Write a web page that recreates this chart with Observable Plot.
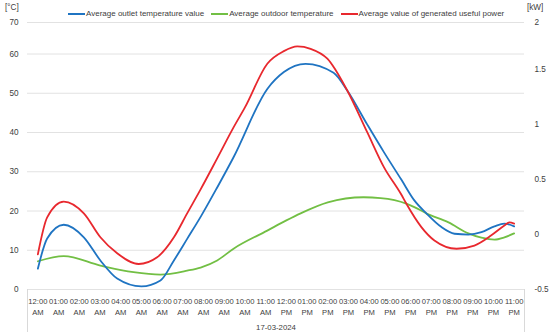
<!DOCTYPE html>
<html><head><meta charset="utf-8">
<script src="https://cdn.jsdelivr.net/npm/d3@7"></script>
<script src="https://cdn.jsdelivr.net/npm/@observablehq/plot@0.6"></script>
<style>
body{margin:0;background:#fff;}
#wrap{position:relative;width:550px;height:336px;font-family:"Liberation Sans",Arial,sans-serif;color:#404040;}
.legend{position:absolute;top:8px;left:68px;display:flex;align-items:center;font-size:8px;white-space:nowrap;line-height:12px;}
.item{display:flex;align-items:center;margin-right:7px}
.sw{display:inline-block;width:17px;height:2.5px;margin-right:1px}
.unit{position:absolute;top:2px;font-size:8.2px;line-height:12px}
</style></head><body>
<div id="wrap"></div>
<script>
// category tick labels (hours of 17-03-2024)
const xTickLabels = ["12:00\nAM","01:00\nAM","02:00\nAM","03:00\nAM","04:00\nAM","05:00\nAM","06:00\nAM","07:00\nAM","08:00\nAM","09:00\nAM","10:00\nAM","11:00\nAM",
  "12:00\nPM","01:00\nPM","02:00\nPM","03:00\nPM","04:00\nPM","05:00\nPM","06:00\nPM","07:00\nPM","08:00\nPM","09:00\nPM","10:00\nPM","11:00\nPM"];
const dateLabel = "17-03-2024";
const leftTicks = [0,10,20,30,40,50,60,70];      // [°C]
const rightTicks = [-0.5,0,0.5,1,1.5,2];         // [kW]

const seriesNames = ["Average outlet temperature value","Average outdoor temperature","Average value of generated useful power"];
const seriesColors = ["#1f74c2","#72bf44","#e8282e"];

// Average outlet temperature value [°C] (hour position, value)
const outletHours  = [0,0.45,1.25,2.22,3.02,3.83,5.0,5.92,6.57,7.21,7.86,8.66,9.45,11.08,11.88,12.93,14.28,14.94,15.91,16.71,17.55,18.18,18.76,19.49,20.12,20.79,21.42,22.05,22.53,23];
const outletValues = [5.3,13,16.5,13.3,7.4,2.8,0.8,2.3,7.4,12.9,18.5,26,33.7,51.1,55.4,57.5,55.2,50.7,42,35,28,22.7,19.4,15.9,14.2,14,14.6,16.1,16.8,16.1];

// Average outdoor temperature [°C]
const outdoorHours  = [0,1.25,3.02,4.62,5.92,7.21,7.86,8.66,9.45,11.08,12.0,12.69,14.0,15.73,16.55,17.79,18.18,18.76,19.83,20.79,21.42,22.05,22.53,23];
const outdoorValues = [7.2,8.5,6.1,4.4,3.8,4.8,5.6,7.4,10.4,15,17.6,19.4,22.2,23.5,23.3,21.9,21,19.4,17.1,14.3,13.2,12.7,13.3,14.3];

// Average value of generated useful power [kW]
const powerHours  = [0,0.45,1.25,2.22,3.02,3.83,4.87,5.76,6.57,7.21,7.86,8.66,9.45,10.0,11.08,11.88,12.53,13.17,13.98,14.94,15.91,16.71,17.55,17.79,18.52,19.15,20.22,21.08,21.9,22.53,22.77,23];
const powerValues = [-0.18,0.157,0.30,0.193,-0.025,-0.171,-0.268,-0.207,-0.025,0.193,0.411,0.693,0.975,1.157,1.554,1.675,1.729,1.702,1.60,1.311,0.929,0.614,0.364,0.282,0.068,-0.054,-0.129,-0.10,-0.007,0.082,0.111,0.10];

// map right axis [kW] onto left axis [°C]
const r0 = rightTicks[0], r1 = rightTicks[rightTicks.length-1];
const l0 = leftTicks[0], l1 = leftTicks[leftTicks.length-1];
const toLeft = p => l0 + (p - r0) * (l1 - l0) / (r1 - r0);
const rightPos = rightTicks.map(toLeft);

const outlet = outletHours.map((h,i)=>({h, v: outletValues[i]}));
const outdoor = outdoorHours.map((h,i)=>({h, v: outdoorValues[i]}));
const power = powerHours.map((h,i)=>({h, v: toLeft(powerValues[i])}));

const font = '"Liberation Sans",Arial,sans-serif';
const chart = Plot.plot({
  width:550, height:336,
  marginTop:22, marginBottom:47, marginLeft:27, marginRight:26,
  style:{fontFamily:font, fontSize:"8.2px", color:"#404040", background:"transparent", overflow:"visible"},
  x:{type:"linear", domain:[-0.5, xTickLabels.length-0.5], label:null},
  y:{type:"linear", domain:[0,60,70], range:[289,53.5,22], label:null},
  marks:[
    Plot.gridY(leftTicks, {stroke:"#e2e2e2", strokeOpacity:1}),
    Plot.axisX([-0.5, xTickLabels.length-0.5], {tickSize:43, tickFormat:()=>"", stroke:"#d9d9d9", label:null}),
    Plot.axisX(d3.range(xTickLabels.length), {tickSize:0, tickPadding:7, lineHeight:1.4, fontSize:7.6, tickFormat:v=>xTickLabels[v], label:null}),
    Plot.axisY(leftTicks, {anchor:"left", tickSize:0, tickPadding:9, label:null}),
    Plot.axisY(rightPos, {anchor:"right", tickSize:0, tickPadding:10, label:null,
      tickFormat:v=>String(rightTicks[rightPos.indexOf(v)])}),
    Plot.line(outdoor, {x:"h", y:"v", stroke:seriesColors[1], strokeWidth:1.8, curve:"monotone-x"}),
    Plot.line(outlet, {x:"h", y:"v", stroke:seriesColors[0], strokeWidth:1.8, curve:"monotone-x"}),
    Plot.line(power, {x:"h", y:"v", stroke:seriesColors[2], strokeWidth:1.8, curve:"monotone-x"}),
    Plot.text([dateLabel], {frameAnchor:"bottom", dy:38, lineAnchor:"middle", fontSize:7.8, fill:"#404040"})
  ]
});
const wrap = document.getElementById("wrap");
wrap.appendChild(chart);
chart.style.position = "absolute"; chart.style.left = "0"; chart.style.top = "0";

const leg = document.createElement("div");
leg.className = "legend";
seriesNames.forEach((n,i)=>{
  const it = document.createElement("span"); it.className = "item";
  const sw = document.createElement("span"); sw.className = "sw"; sw.style.background = seriesColors[i];
  it.appendChild(sw); it.appendChild(document.createTextNode(n));
  leg.appendChild(it);
});
wrap.appendChild(leg);
const u1 = document.createElement("div"); u1.className="unit"; u1.style.left="5px"; u1.textContent="[°C]"; wrap.appendChild(u1);
const u2 = document.createElement("div"); u2.className="unit"; u2.style.left="527px"; u2.textContent="[kW]"; wrap.appendChild(u2);
</script>
</body></html>
